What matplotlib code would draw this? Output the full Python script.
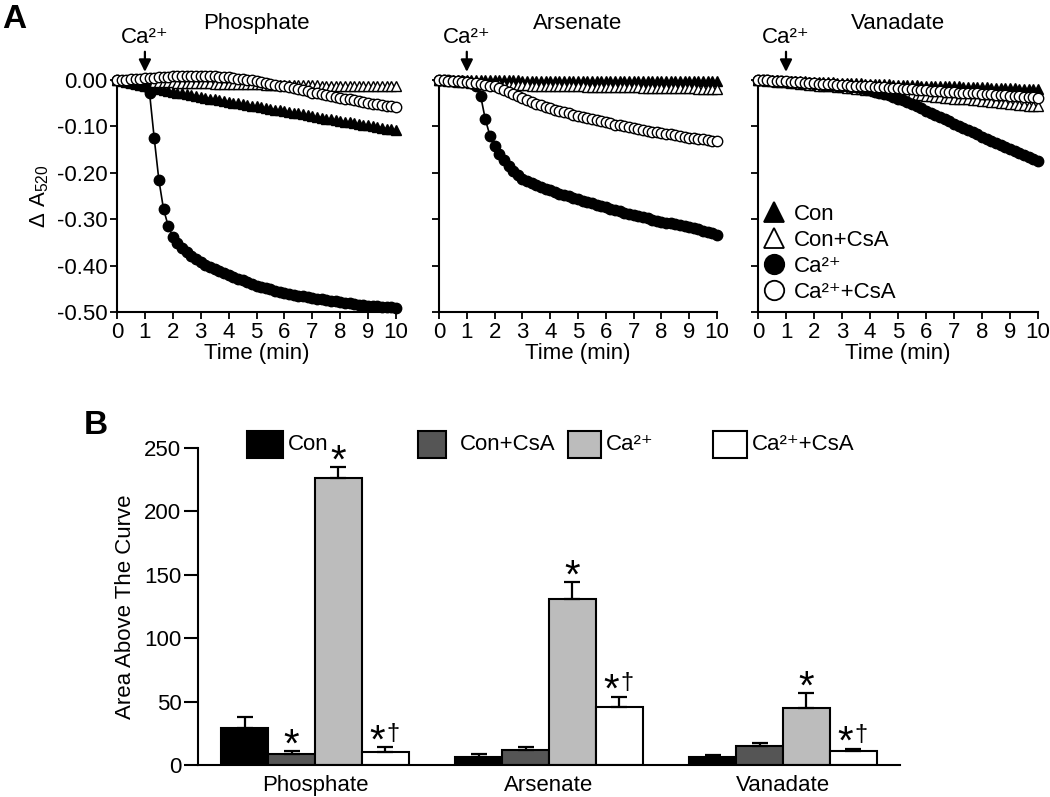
import numpy as np
import matplotlib
matplotlib.use("Agg")
import matplotlib.pyplot as plt
from matplotlib.lines import Line2D
from matplotlib.patches import Rectangle

plt.rcParams['font.family'] = ['Liberation Sans', 'DejaVu Sans']
plt.rcParams['mathtext.fontset'] = 'custom'
plt.rcParams['mathtext.rm'] = 'Liberation Sans'
plt.rcParams['mathtext.it'] = 'Liberation Sans'

# ---- panel A data: readings every 10 s from 0 to 10 min ----
time = np.arange(61) / 6

phos_con = [0, -0.002, -0.004, -0.007, -0.009, -0.011,
            -0.013, -0.015, -0.017, -0.019, -0.021, -0.023,
            -0.025, -0.027, -0.029, -0.031, -0.032, -0.034,
            -0.036, -0.038, -0.040, -0.042, -0.043, -0.045,
            -0.047, -0.049, -0.050, -0.052, -0.054, -0.055,
            -0.057, -0.059, -0.060, -0.062, -0.064, -0.065,
            -0.067, -0.069, -0.071, -0.072, -0.074, -0.076,
            -0.078, -0.080, -0.081, -0.083, -0.085, -0.086,
            -0.088, -0.090, -0.091, -0.093, -0.095, -0.096,
            -0.098, -0.100, -0.101, -0.103, -0.105, -0.106,
            -0.108]
phos_con_csa = [0, -0.001, -0.001, -0.002, -0.002, -0.003,
                -0.003, -0.003, -0.004, -0.004, -0.005, -0.005,
                -0.005, -0.006, -0.006, -0.006, -0.007, -0.007,
                -0.007, -0.007, -0.007, -0.008, -0.008, -0.008,
                -0.008, -0.008, -0.009, -0.009, -0.009, -0.009,
                -0.009, -0.009, -0.010, -0.010, -0.010, -0.010,
                -0.010, -0.010, -0.011, -0.011, -0.011, -0.011,
                -0.011, -0.011, -0.012, -0.012, -0.012, -0.012,
                -0.012, -0.012, -0.013, -0.013, -0.013, -0.013,
                -0.013, -0.013, -0.014, -0.014, -0.014, -0.014,
                -0.014]
phos_ca = [0, -0.002, -0.004, -0.006, -0.008, -0.010,
           -0.012, -0.028, -0.125, -0.215, -0.278, -0.314,
           -0.338, -0.352, -0.363, -0.371, -0.379, -0.386,
           -0.393, -0.398, -0.403, -0.408, -0.412, -0.417,
           -0.421, -0.425, -0.429, -0.432, -0.436, -0.440,
           -0.443, -0.446, -0.449, -0.451, -0.454, -0.456,
           -0.459, -0.461, -0.463, -0.465, -0.466, -0.468,
           -0.470, -0.471, -0.473, -0.474, -0.476, -0.477,
           -0.479, -0.480, -0.481, -0.482, -0.484, -0.485,
           -0.486, -0.487, -0.488, -0.489, -0.490, -0.490,
           -0.491]
phos_ca_csa = [0, 0.001, 0.001, 0.002, 0.003, 0.003,
               0.004, 0.005, 0.005, 0.006, 0.007, 0.007,
               0.008, 0.008, 0.009, 0.009, 0.009, 0.009,
               0.009, 0.009, 0.008, 0.008, 0.007, 0.007,
               0.006, 0.005, 0.003, 0.002, 0.001, -0.001,
               -0.002, -0.004, -0.006, -0.008, -0.010, -0.012,
               -0.013, -0.015, -0.017, -0.020, -0.022, -0.024,
               -0.027, -0.029, -0.031, -0.033, -0.035, -0.036,
               -0.038, -0.040, -0.042, -0.044, -0.045, -0.047,
               -0.049, -0.051, -0.052, -0.054, -0.056, -0.057,
               -0.059]

ars_con = [0, 0, 0, 0, 0, 0,
           -0.001, -0.001, -0.001, -0.001, -0.001, -0.001,
           -0.001, -0.001, -0.001, -0.001, -0.001, -0.001,
           -0.002, -0.002, -0.002, -0.002, -0.002, -0.002,
           -0.002, -0.002, -0.002, -0.002, -0.002, -0.002,
           -0.002, -0.002, -0.002, -0.002, -0.002, -0.002,
           -0.003, -0.003, -0.003, -0.003, -0.003, -0.003,
           -0.003, -0.003, -0.003, -0.003, -0.003, -0.003,
           -0.003, -0.003, -0.003, -0.003, -0.003, -0.003,
           -0.003, -0.003, -0.003, -0.003, -0.003, -0.003,
           -0.003]
ars_con_csa = [0, -0.001, -0.002, -0.003, -0.004, -0.004,
               -0.005, -0.006, -0.007, -0.007, -0.008, -0.008,
               -0.009, -0.009, -0.010, -0.010, -0.010, -0.011,
               -0.011, -0.011, -0.012, -0.012, -0.012, -0.013,
               -0.013, -0.013, -0.013, -0.014, -0.014, -0.014,
               -0.014, -0.014, -0.015, -0.015, -0.015, -0.015,
               -0.015, -0.015, -0.016, -0.016, -0.016, -0.016,
               -0.016, -0.016, -0.017, -0.017, -0.017, -0.017,
               -0.017, -0.017, -0.018, -0.018, -0.018, -0.018,
               -0.018, -0.018, -0.019, -0.019, -0.019, -0.019,
               -0.019]
ars_ca = [0, -0.001, -0.001, -0.002, -0.002, -0.003,
          -0.004, -0.006, -0.013, -0.035, -0.085, -0.120,
          -0.143, -0.160, -0.172, -0.185, -0.196, -0.205,
          -0.213, -0.218, -0.223, -0.227, -0.231, -0.235,
          -0.238, -0.241, -0.245, -0.248, -0.251, -0.254,
          -0.257, -0.260, -0.263, -0.266, -0.269, -0.271,
          -0.274, -0.277, -0.280, -0.283, -0.286, -0.288,
          -0.291, -0.293, -0.296, -0.298, -0.301, -0.303,
          -0.306, -0.308, -0.309, -0.311, -0.313, -0.314,
          -0.316, -0.319, -0.322, -0.325, -0.328, -0.330,
          -0.333]
ars_ca_csa = [0, -0.001, -0.002, -0.003, -0.003, -0.004,
              -0.005, -0.006, -0.007, -0.009, -0.011, -0.012,
              -0.014, -0.017, -0.021, -0.025, -0.030, -0.034,
              -0.039, -0.043, -0.047, -0.051, -0.054, -0.058,
              -0.061, -0.064, -0.067, -0.070, -0.072, -0.075,
              -0.077, -0.080, -0.082, -0.084, -0.087, -0.089,
              -0.091, -0.093, -0.096, -0.098, -0.100, -0.102,
              -0.104, -0.106, -0.107, -0.109, -0.111, -0.112,
              -0.114, -0.116, -0.117, -0.119, -0.121, -0.122,
              -0.124, -0.125, -0.127, -0.128, -0.129, -0.131,
              -0.132]

van_con = [0, 0, -0.001, -0.001, -0.001, -0.002,
           -0.002, -0.002, -0.003, -0.003, -0.003, -0.004,
           -0.004, -0.004, -0.005, -0.005, -0.005, -0.006,
           -0.006, -0.006, -0.007, -0.007, -0.007, -0.008,
           -0.008, -0.008, -0.009, -0.009, -0.009, -0.010,
           -0.010, -0.010, -0.011, -0.011, -0.011, -0.012,
           -0.012, -0.012, -0.013, -0.013, -0.013, -0.014,
           -0.014, -0.014, -0.015, -0.015, -0.015, -0.016,
           -0.016, -0.016, -0.017, -0.017, -0.017, -0.018,
           -0.018, -0.018, -0.019, -0.019, -0.019, -0.020,
           -0.020]
van_con_csa = [0, -0.001, -0.002, -0.003, -0.004, -0.004,
               -0.005, -0.006, -0.007, -0.008, -0.009, -0.010,
               -0.011, -0.012, -0.013, -0.013, -0.014, -0.015,
               -0.016, -0.017, -0.018, -0.019, -0.020, -0.021,
               -0.022, -0.023, -0.024, -0.025, -0.026, -0.027,
               -0.028, -0.029, -0.030, -0.031, -0.032, -0.033,
               -0.034, -0.035, -0.036, -0.037, -0.038, -0.039,
               -0.040, -0.041, -0.042, -0.042, -0.043, -0.044,
               -0.045, -0.046, -0.047, -0.048, -0.049, -0.050,
               -0.051, -0.052, -0.053, -0.054, -0.055, -0.056,
               -0.057]
van_ca = [0, -0.001, -0.001, -0.002, -0.003, -0.003,
          -0.004, -0.005, -0.005, -0.006, -0.007, -0.007,
          -0.008, -0.009, -0.010, -0.010, -0.011, -0.012,
          -0.012, -0.013, -0.015, -0.016, -0.018, -0.020,
          -0.022, -0.025, -0.027, -0.030, -0.033, -0.036,
          -0.040, -0.044, -0.048, -0.052, -0.057, -0.061,
          -0.066, -0.071, -0.075, -0.080, -0.085, -0.089,
          -0.094, -0.099, -0.103, -0.108, -0.113, -0.117,
          -0.122, -0.127, -0.131, -0.136, -0.140, -0.145,
          -0.149, -0.153, -0.158, -0.162, -0.166, -0.170,
          -0.174]
van_ca_csa = [0, -0.001, -0.001, -0.002, -0.002, -0.003,
              -0.003, -0.004, -0.004, -0.005, -0.006, -0.006,
              -0.007, -0.008, -0.008, -0.009, -0.009, -0.010,
              -0.010, -0.011, -0.012, -0.012, -0.013, -0.013,
              -0.014, -0.015, -0.015, -0.016, -0.017, -0.017,
              -0.018, -0.019, -0.019, -0.020, -0.021, -0.021,
              -0.022, -0.023, -0.023, -0.024, -0.025, -0.025,
              -0.026, -0.027, -0.027, -0.028, -0.029, -0.029,
              -0.030, -0.031, -0.031, -0.032, -0.033, -0.033,
              -0.034, -0.035, -0.035, -0.036, -0.037, -0.037,
              -0.038]

yticks_a = [-0.5, -0.4, -0.3, -0.2, -0.1, 0.0]
ytick_labels_a = ["-0.50", "-0.40", "-0.30", "-0.20", "-0.10", "0.00"]

# ---- panel B data ----
groups = ["Phosphate", "Arsenate", "Vanadate"]
treatments = ["Con", "Con+CsA", "Ca\u00b2\u207a", "Ca\u00b2\u207a+CsA"]
auc_con = [29, 6, 6]
auc_con_csa = [9, 12, 15]
auc_ca = [226, 131, 45]
auc_ca_csa = [10, 46, 11]
sem_con = [9, 3, 2]
sem_con_csa = [2, 2, 2]
sem_ca = [9, 13, 12]
sem_ca_csa = [4, 8, 2]
# significance marks: (asterisk, dagger)
sig_con = [(False, False)] * 3
sig_con_csa = [(True, False), (False, False), (False, False)]
sig_ca = [(True, False)] * 3
sig_ca_csa = [(True, True)] * 3

fig = plt.figure(figsize=(10.5, 7.97), dpi=100)
W, H = 1050, 797


def px_axes(x0, x1, ytop, ybot):
    return fig.add_axes([x0 / W, 1 - ybot / H, (x1 - x0) / W, (ybot - ytop) / H])


panels = [
    ("Phosphate", px_axes(117, 396, 80, 312), [phos_con, phos_con_csa, phos_ca, phos_ca_csa]),
    ("Arsenate", px_axes(439, 717, 80, 312), [ars_con, ars_con_csa, ars_ca, ars_ca_csa]),
    ("Vanadate", px_axes(758, 1038, 80, 312), [van_con, van_con_csa, van_ca, van_ca_csa]),
]
markers = ["^", "^", "o", "o"]
faces = ["black", "white", "black", "white"]

for i, (name, ax, series) in enumerate(panels):
    for vals, m, fc in zip(series, markers, faces):
        ax.plot(time, vals, color="black", lw=1.2, marker=m, ms=7.5,
                mfc=fc, mec="black", mew=1.0, clip_on=False, zorder=3)
    ax.set_xlim(0, 10)
    ax.set_ylim(-0.5, 0)
    ax.set_xticks(range(11))
    ax.set_yticks(yticks_a)
    ax.set_yticklabels(ytick_labels_a if i == 0 else [])
    ax.tick_params(labelsize=16, length=5, width=1.3, pad=2)
    for s in ["top", "right"]:
        ax.spines[s].set_visible(False)
    for s in ["left", "bottom"]:
        ax.spines[s].set_linewidth(1.5)
    ax.set_xlabel("Time (min)", fontsize=16, labelpad=0)
    ax.set_title(name, fontsize=16, pad=37)
    ax.annotate("Ca\u00b2\u207a", xy=(1, 1.035), xytext=(1, 1.185),
                xycoords=("data", "axes fraction"), textcoords=("data", "axes fraction"),
                ha="center", va="center", fontsize=16,
                arrowprops=dict(arrowstyle="-|>,head_width=0.3,head_length=0.6",
                                mutation_scale=12, color="black", lw=1.6,
                                shrinkA=1, shrinkB=0))

panels[0][1].set_ylabel("\u0394 A$_{520}$", fontsize=16, labelpad=4)

# legend inside vanadate panel
leg_handles = [Line2D([], [], ls="none", marker=m, ms=14, mfc=fc, mec="black", mew=1.3)
               for m, fc in zip(markers, faces)]
panels[2][1].legend(leg_handles, treatments, loc="lower left", bbox_to_anchor=(0.0, 0.02),
                    frameon=False, fontsize=16, handlelength=1.0, handletextpad=0.4,
                    labelspacing=0.22, borderpad=0.2, borderaxespad=0)

fig.text(0.002, 1 - 20 / H, "A", fontsize=24, fontweight="bold", va="center")
fig.text(84 / W, 1 - 426 / H, "B", fontsize=24, fontweight="bold", va="center")

# ---- panel B bars ----
axb = px_axes(198, 900, 448, 765)
x = np.arange(len(groups))
width = 0.2
bar_sets = [(auc_con, sem_con, sig_con, "black"),
            (auc_con_csa, sem_con_csa, sig_con_csa, "#555555"),
            (auc_ca, sem_ca, sig_ca, "#bcbcbc"),
            (auc_ca_csa, sem_ca_csa, sig_ca_csa, "white")]
for k, (vals, err, sig, col) in enumerate(bar_sets):
    pos = x + (k - 1.5) * width
    axb.bar(pos, vals, width, color=col, edgecolor="black", linewidth=1.5, zorder=2)
    axb.errorbar(pos, vals, yerr=[np.zeros(len(vals)), err], fmt="none", ecolor="black",
                 elinewidth=1.6, capsize=6, capthick=1.6, zorder=3)
    for p, v, e, (star, dag) in zip(pos, vals, err, sig):
        dx = -6 if dag else 0
        if star:
            axb.annotate("*", xy=(p, v + e), xytext=(dx, -4), textcoords="offset points",
                         ha="center", va="baseline", fontsize=29)
        if dag:
            axb.annotate("\u2020", xy=(p, v + e), xytext=(5.5, 1.5), textcoords="offset points",
                         ha="center", va="bottom", fontsize=17)

axb.set_xlim(-0.5, 2.5)
axb.set_ylim(0, 250)
axb.set_xticks(x)
axb.set_xticklabels(groups)
axb.set_yticks(range(0, 251, 50))
axb.tick_params(axis="y", labelsize=16, length=10, width=1.5, pad=2)
axb.tick_params(axis="x", labelsize=16, length=0, pad=7)
for s in ["top", "right"]:
    axb.spines[s].set_visible(False)
for s in ["left", "bottom"]:
    axb.spines[s].set_linewidth(1.5)
axb.set_ylabel("Area Above The Curve", fontsize=16, labelpad=6)

# legend of panel B, boxes spread along the top
box_x = [(247, 283), (418, 446), (568, 601), (713, 747)]
text_x = [288, 460, 606, 752]
for (bx0, bx1), tx, lab, (_, _, _, col) in zip(box_x, text_x, treatments, bar_sets):
    fig.patches.append(Rectangle((bx0 / W, 1 - 458 / H), (bx1 - bx0) / W, 27 / H,
                                 transform=fig.transFigure, facecolor=col,
                                 edgecolor="black", linewidth=1.5))
    fig.text(tx / W, 1 - 444 / H, lab, fontsize=16, va="center")

plt.savefig("out.png", dpi=100)
